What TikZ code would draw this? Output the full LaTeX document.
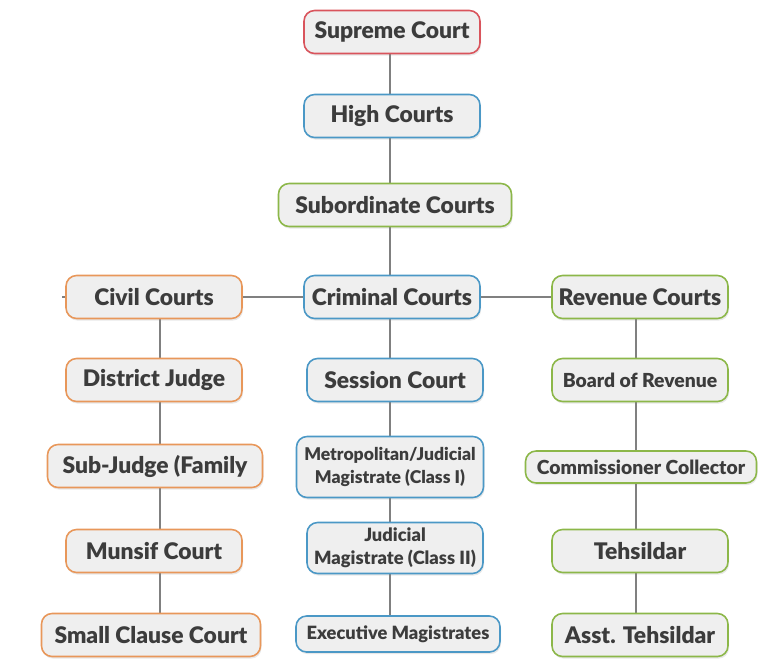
\documentclass[tikz,border=0pt]{standalone}
\usepackage{fontspec}
\setmainfont{Lato}[BoldFont={Lato Black}]
\usetikzlibrary{shadows,backgrounds}

\definecolor{txtgray}{HTML}{3C3C3C}
\definecolor{boxfill}{HTML}{EFEFEF}
\definecolor{linegray}{HTML}{808080}
\definecolor{courtred}{HTML}{D9545C}
\definecolor{courtblue}{HTML}{4B98C6}
\definecolor{courtgreen}{HTML}{8CB749}
\definecolor{courtorange}{HTML}{E8975A}

\tikzset{
  court/.style={draw, line width=0.9pt, rounded corners=6pt, fill=boxfill,
    text=txtgray, font=\fontsize{13}{15}\selectfont\bfseries, align=center,
    minimum width=3.52cm, minimum height=0.86cm, inner sep=2pt,
    drop shadow={opacity=0.18, shadow xshift=0.6pt, shadow yshift=-1.2pt}},
  small/.style={font=\fontsize{10.4}{13}\selectfont\bfseries},
  smallish/.style={font=\fontsize{11}{13}\selectfont\bfseries},
  link/.style={draw=linegray, line width=0.8pt}
}

\begin{document}
\begin{tikzpicture}[x=0.02cm, y=-0.02cm]
    \useasboundingbox (0,0) rectangle (764,670);

    % top of the hierarchy
    \node[court, draw=courtred] (supreme) at (392,32) {Supreme Court};
    \node[court, draw=courtblue] (high) at (392,116) {High Courts};
    \node[court, draw=courtgreen, minimum width=4.66cm] (subordinate) at (395,205) {Subordinate Courts};

    % three branches
    \node[court, draw=courtorange] (civil) at (154,297) {Civil Courts};
    \node[court, draw=courtblue] (criminal) at (392,297) {Criminal Courts};
    \node[court, draw=courtgreen] (revenue) at (640,297) {Revenue Courts};

    % civil side
    \node[court, draw=courtorange] (district) at (154,380) {District Judge};
    \node[court, draw=courtorange, minimum width=4.3cm] (subjudge) at (155,466) {Sub-Judge (Family};
    \node[court, draw=courtorange] (munsif) at (154,551) {Munsif Court};
    \node[court, draw=courtorange, minimum width=4.38cm] (smallclause) at (151,635) {Small Clause Court};

    % criminal side
    \node[court, draw=courtblue] (session) at (395,380) {Session Court};
    \node[court, small, font=\fontsize{10}{13}\selectfont\bfseries, draw=courtblue, minimum width=3.74cm, minimum height=1.22cm] (metro) at (390,467) {Metropolitan/Judicial\\Magistrate (Class I)};
    \node[court, small, draw=courtblue, minimum height=1.02cm] (jmclass) at (395,548) {Judicial\\Magistrate (Class II)};
    \node[court, small, draw=courtblue, minimum width=4.08cm, minimum height=0.72cm] (executive) at (398,634) {Executive Magistrates};

    % revenue side
    \node[court, smallish, draw=courtgreen] (board) at (640,380) {Board of Revenue};
    \node[court, smallish, draw=courtgreen, minimum width=4.62cm, minimum height=0.64cm] (commissioner) at (641,467) {Commissioner Collector};
    \node[court, draw=courtgreen] (tehsildar) at (640,551) {Tehsildar};
    \node[court, draw=courtgreen] (asst) at (640,635) {Asst. Tehsildar};

    % connectors, one x per column
    \coordinate (colL) at (160,0);
    \coordinate (colM) at (390,0);
    \coordinate (colR) at (636,0);
    \coordinate (stub) at (62,297);
    \begin{scope}[on background layer]
        \draw[link] (stub) -- (revenue.west);
        \draw[link] (supreme.south -| colM) -- (high.north -| colM);
        \draw[link] (high.south -| colM) -- (subordinate.north -| colM);
        \draw[link] (subordinate.south -| colM) -- (criminal.north -| colM);
        \draw[link] (civil.south -| colL) -- (district.north -| colL);
        \draw[link] (district.south -| colL) -- (subjudge.north -| colL);
        \draw[link] (subjudge.south -| colL) -- (munsif.north -| colL);
        \draw[link] (munsif.south -| colL) -- (smallclause.north -| colL);
        \draw[link] (criminal.south -| colM) -- (session.north -| colM);
        \draw[link] (session.south -| colM) -- (metro.north -| colM);
        \draw[link] (metro.south -| colM) -- (jmclass.north -| colM);
        \draw[link] (jmclass.south -| colM) -- (executive.north -| colM);
        \draw[link] (revenue.south -| colR) -- (board.north -| colR);
        \draw[link] (board.south -| colR) -- (commissioner.north -| colR);
        \draw[link] (commissioner.south -| colR) -- (tehsildar.north -| colR);
        \draw[link] (tehsildar.south -| colR) -- (asst.north -| colR);
    \end{scope}
\end{tikzpicture}
\end{document}
